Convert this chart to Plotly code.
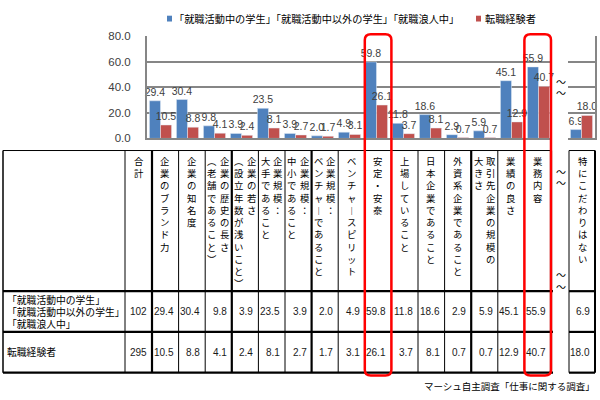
import plotly.graph_objects as go

# ---------------- data ----------------
series_names = ["「就職活動中の学生」「就職活動中以外の学生」「就職浪人中」", "転職経験者"]
header_lines = [
    ["企業のブランド力"],
    ["企業の知名度"],
    ["企業の歴史の長さ", "（老舗であること）"],
    ["企業の若さ", "（設立年数が浅いこと）"],
    ["企業規模：", "大手であること"],
    ["企業規模：", "中小であること"],
    ["企業規模：", "ベンチャーであること"],
    ["ベンチャースピリット"],
    ["安定・安泰"],
    ["上場していること"],
    ["日本企業であること"],
    ["外資系企業であること"],
    ["取引先企業の規模の", "大きさ"],
    ["業績の良さ"],
    ["業務内容"],
]
categories = ["".join(h) for h in header_lines]
students = [29.4, 30.4, 9.8, 3.9, 23.5, 3.9, 2.0, 4.9, 59.8, 11.8, 18.6, 2.9, 5.9, 45.1, 55.9]
changers = [10.5, 8.8, 4.1, 2.4, 8.1, 2.7, 1.7, 3.1, 26.1, 3.7, 8.1, 0.7, 0.7, 12.9, 40.7]
other_category = ["特にこだわりはない"]
students_other = [6.9]
changers_other = [18.0]
total_label = "合計"
totals = [102, 295]
row_labels = [["「就職活動中の学生」", "「就職活動中以外の学生」", "「就職浪人中」"], ["転職経験者"]]
highlight = ["安定・安泰", "業務内容"]
source_text = "マーシュ自主調査「仕事に関する調査」"
y_ticks = [0, 20, 40, 60, 80]

# ---------------- style ----------------
BLUE = "#4F81BD"
RED = "#C0504D"
GRID = "#868686"
W, H = 600, 400
JP = "Noto Sans CJK JP"
NUM = "Liberation Sans"


def X(px):
    return px / W


def Y(py):
    return 1 - py / H


fig = go.Figure()
label_font = dict(family=NUM, size=10.5, color="#404040")
bar_common = dict(texttemplate="%{y:.1f}", textposition="outside", cliponaxis=False,
                  constraintext="none", textfont=label_font, hoverinfo="x+y")
fig.add_trace(go.Bar(x=categories, y=students, name=series_names[0], marker_color=BLUE,
                     xaxis="x", yaxis="y", **bar_common))
fig.add_trace(go.Bar(x=categories, y=changers, name=series_names[1], marker_color=RED,
                     xaxis="x", yaxis="y", **bar_common))
fig.add_trace(go.Bar(x=other_category, y=students_other, name=series_names[0], marker_color=BLUE,
                     xaxis="x2", yaxis="y2", **bar_common))
fig.add_trace(go.Bar(x=other_category, y=changers_other, name=series_names[1], marker_color=RED,
                     xaxis="x2", yaxis="y2", **bar_common))

top_px, bot_px = 31, 136.5
ydom = [Y(bot_px), Y(top_px)]
common_y = dict(range=[0, 80], tickvals=y_ticks, showgrid=True, gridcolor=GRID, gridwidth=1.8,
                zeroline=False, showline=True, linecolor=GRID, linewidth=2, fixedrange=True)

fig.update_layout(
    width=W, height=H, margin=dict(l=0, r=0, t=0, b=0),
    paper_bgcolor="white", plot_bgcolor="rgba(0,0,0,0)",
    barmode="group", bargap=0.18, bargroupgap=0, showlegend=False,
    xaxis=dict(domain=[X(147), X(552)], range=[-0.5, len(categories) - 0.5], type="category",
               showticklabels=False, showgrid=False, showline=True, linecolor=GRID, linewidth=2,
               anchor="y", fixedrange=True),
    yaxis=dict(domain=ydom, anchor="x", tickformat=".1f", ticks="", ticklabelstandoff=12,
               tickfont=dict(family=NUM, size=11.5, color="#404040"), **common_y),
    xaxis2=dict(domain=[X(568), X(595)], range=[-0.5, 0.5], type="category",
                showticklabels=False, showgrid=False, showline=True, linecolor=GRID, linewidth=2,
                anchor="y2", fixedrange=True),
    yaxis2=dict(domain=ydom, anchor="x2", side="right", showticklabels=False, ticks="", **common_y),
)

shapes = []
annotations = []

# legend (manual)
shapes.append(dict(type="rect", xref="paper", yref="paper", x0=X(167), x1=X(172), y0=Y(16), y1=Y(10),
                   fillcolor=BLUE, line=dict(width=0)))
shapes.append(dict(type="rect", xref="paper", yref="paper", x0=X(476), x1=X(481), y0=Y(16), y1=Y(10),
                   fillcolor=RED, line=dict(width=0)))
annotations.append(dict(text=series_names[0], x=X(172), y=Y(13), xanchor="left", yanchor="middle",
                        font=dict(family=JP, size=10.2, color="black")))
annotations.append(dict(text=series_names[1], x=X(483), y=Y(13), xanchor="left", yanchor="middle",
                        font=dict(family=JP, size=10.2, color="black")))

# break marks
for yy in [78, 89, 171, 182, 277, 289]:
    annotations.append(dict(text="～", x=X(561), y=Y(yy), xanchor="center", yanchor="middle",
                            font=dict(family=JP, size=10, color="black")))

# ---------------- table ----------------
t_top, t_head, t_r1, t_bot = 149, 294, 336, 378
left_x, label_right, tot_right = 3, 125, 152
cat_left, cat_right = 152, 551
ow_left, ow_right = 569, 595
cw = (cat_right - cat_left) / len(categories)
col_edges = [cat_left + i * cw for i in range(len(categories) + 1)]
thick_cols = {0, 3, 6, 12, 15}


def line(x0, y0, x1, y1, w):
    shapes.append(dict(type="line", xref="paper", yref="paper", x0=X(x0), y0=Y(y0), x1=X(x1), y1=Y(y1),
                       line=dict(color="black", width=w), layer="above"))


# horizontal lines
line(left_x, t_top, cat_right, t_top, 1)
line(ow_left, t_top, ow_right, t_top, 1)
for yy in [t_head, t_r1, t_bot]:
    line(left_x, yy, cat_right + 2, yy, 2.2)
    line(ow_left, yy, ow_right, yy, 2.2)
# vertical lines
line(left_x, t_top, left_x, t_bot, 1.5)
line(label_right, t_top, label_right, t_bot, 1)
for i, xe in enumerate(col_edges):
    line(xe, t_top, xe, t_bot, 2.2 if i in thick_cols else 1)
line(ow_left, t_top, ow_left, t_bot, 1)
line(ow_right, t_top, ow_right, t_bot, 2)

vert_map = {"ー": "︱", "（": "︵", "）": "︶"}


def vtext(s):
    return "<br>".join(vert_map.get(c, c) for c in s)


hdr_font = dict(family=JP, size=9.4, color="black")


def header(cell_l, cell_r, lines):
    cx = (cell_l + cell_r) / 2
    n = len(lines)
    offs = [0] if n == 1 else [6.5, -6.5]
    for ln, off in zip(lines, offs):
        annotations.append(dict(text=vtext(ln), x=X(cx + off), y=Y(150), xanchor="center", yanchor="top",
                                align="center", font=hdr_font, showarrow=False))


header(label_right, tot_right, [total_label])
for i, hl in enumerate(header_lines):
    header(col_edges[i], col_edges[i + 1], hl)
header(ow_left, ow_right, other_category)

# row labels
row_font = dict(family=JP, size=9.8, color="black")
for j, yy in enumerate([303, 315.5, 328]):
    annotations.append(dict(text=row_labels[0][j], x=X(5), y=Y(yy), xanchor="left", yanchor="middle",
                            font=row_font))
annotations.append(dict(text=row_labels[1][0], x=X(5), y=Y(357), xanchor="left", yanchor="middle",
                        font=row_font))

# values
val_font = dict(family=NUM, size=10, color="#1a1a1a")
rows = [(students, students_other, totals[0], 315), (changers, changers_other, totals[1], 357)]
for vals, oth, tot, yy in rows:
    annotations.append(dict(text=str(tot), x=X(tot_right - 3), y=Y(yy), xanchor="right", yanchor="middle",
                            font=val_font))
    for i, v in enumerate(vals):
        annotations.append(dict(text=f"{v:.1f}", x=X(col_edges[i + 1] - 3), y=Y(yy), xanchor="right",
                                yanchor="middle", font=val_font))
    annotations.append(dict(text=f"{oth[0]:.1f}", x=X(ow_right - 3), y=Y(yy), xanchor="right",
                            yanchor="middle", font=val_font))

# source
annotations.append(dict(text=source_text, x=X(597), y=Y(392), xanchor="right", yanchor="middle",
                        font=dict(family=JP, size=9.5, color="black")))


# red highlight rounded rectangles
def rrect(x0, y0, x1, y1, r=6):
    rx, ry = r / W, r / H
    a0, a1, b0, b1 = X(x0), X(x1), Y(y0), Y(y1)  # b0 top (larger), b1 bottom
    p = (f"M{a0+rx},{b0} L{a1-rx},{b0} Q{a1},{b0} {a1},{b0-ry} L{a1},{b1+ry} Q{a1},{b1} {a1-rx},{b1} "
         f"L{a0+rx},{b1} Q{a0},{b1} {a0},{b1+ry} L{a0},{b0-ry} Q{a0},{b0} {a0+rx},{b0} Z")
    shapes.append(dict(type="path", path=p, xref="paper", yref="paper",
                       line=dict(color="#FF0000", width=2.5), layer="above"))


for name in highlight:
    i = categories.index(name)
    rrect(col_edges[i], 29, col_edges[i + 1], 381)

for a in annotations:
    a.setdefault("xref", "paper")
    a.setdefault("yref", "paper")
    a.setdefault("showarrow", False)

fig.update_layout(shapes=shapes, annotations=annotations)
fig.write_html("out.html", config={"displayModeBar": False},
               post_script="document.body.style.margin='0';document.body.style.overflow='hidden';")
